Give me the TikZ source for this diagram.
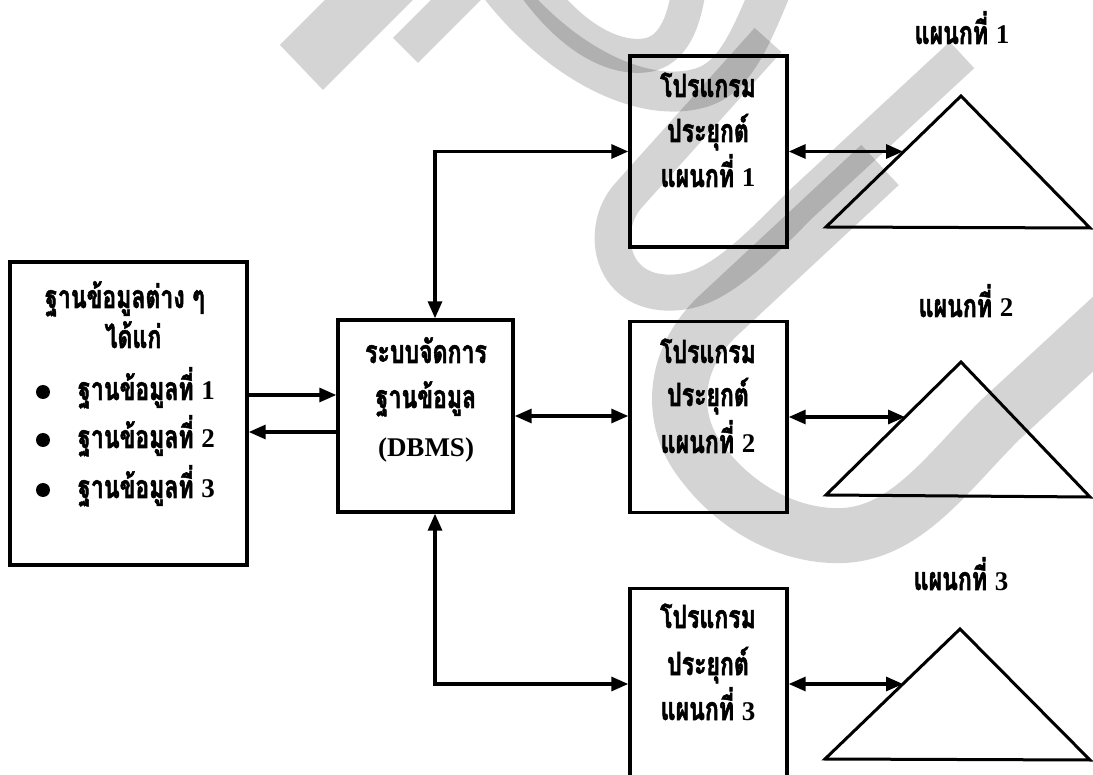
\documentclass[tikz,border=0pt]{standalone}
\usepackage{fontspec}
\newfontfamily\thaifont[Script=Thai,FakeStretch=0.72,FakeBold=1.6]{Loma}
\newfontfamily\serifnum{Liberation Serif}
\usetikzlibrary{arrows.meta,calc}
\newcommand\latn[1]{{\serifnum\bfseries\fontsize{27}{30}\selectfont #1}}
\begin{document}
\begin{tikzpicture}[x=1pt,y=-1pt,
  box/.style={draw,line width=3.4pt,rectangle,inner sep=0pt,
              minimum width=157pt,minimum height=191pt},
  th/.style={font=\thaifont\bfseries\fontsize{32}{36}\selectfont,
             inner sep=0pt,anchor=base},
  dot/.style={circle,fill,inner sep=0pt,minimum size=14pt},
  link/.style={line width=3.2pt,-{Triangle[length=17pt,width=14pt]}},
  both/.style={line width=3.2pt,
               {Triangle[length=17pt,width=14pt]}-{Triangle[length=17pt,width=14pt]}},
  tri/.style={line width=3pt,line join=miter},
  wm/.style={black,opacity=0.17},
]
\useasboundingbox (0,0) rectangle (1093,775);
\clip (0,0) rectangle (1093,775);
\fill[white] (0,0) rectangle (1093,775);

% faint logo behind the chart
\fill[wm] (280,45) -- (323,90) -- (413,0) -- (325,0) -- cycle;
\fill[wm] (393,38) -- (418,63) -- (481,0) -- (431,0) -- cycle;
\draw[wm,line width=40pt] (495,-20) .. controls (555,60) and (640,105) .. (700,88)
      .. controls (735,78) and (750,40) .. (775,-20);
\draw[wm,line width=34pt] (530,-20) .. controls (575,45) and (620,60) .. (648,55)
      .. controls (672,50) and (685,25) .. (690,-20);
\draw[wm,line width=36pt] (768,40) -- (628,196) .. controls (598,230) and (610,300) .. (680,292)
      .. controls (720,288) and (760,245) .. (800,205) -- (962,55);
\draw[wm,line width=55pt] (880,165) -- (720,314) .. controls (670,360) and (670,420) .. (700,460)
      .. controls (740,515) and (800,540) .. (850,535)
      .. controls (910,528) and (950,470) .. (1000,420) -- (1130,300);

% boxes
\node[box,minimum width=237pt,minimum height=303pt] (dbs) at (128.5,413.5) {};
\node[box,minimum width=175pt,minimum height=192pt] (dbms) at (425.5,416) {};
\node[box] (p1) at (708.5,151.5) {};
\node[box] (p2) at (708.5,417) {};
\node[box] (p3) at (708.5,684) {};

% list of databases
\node[th] (dbs1) at (125,308) {ฐานข้อมูลต่าง ๆ};
\node[th] (dbs2) at (133,348) {ได้แก่};
\node[dot] (k1) at (43,392) {};
\node[dot] (k2) at (43,440) {};
\node[dot] (k3) at (43,490) {};
\node[th,anchor=base west] (i1) at (78,400) {ฐานข้อมูลที่ \latn{1}};
\node[th,anchor=base west] (i2) at (78,448) {ฐานข้อมูลที่ \latn{2}};
\node[th,anchor=base west] (i3) at (78,498) {ฐานข้อมูลที่ \latn{3}};

% DBMS
\node[th] (m1) at (426,363) {ระบบจัดการ};
\node[th] (m2) at (426,408) {ฐานข้อมูล};
\node[th] (m3) at (426,457) {\latn{(DBMS)}};

% application programs
\node[th] (a1) at (708,97) {โปรแกรม};
\node[th] (a2) at (708,142) {ประยุกต์};
\node[th] (a3) at (708,187) {แผนกที่ \latn{1}};
\node[th] (b1) at (708,363) {โปรแกรม};
\node[th] (b2) at (708,406) {ประยุกต์};
\node[th] (b3) at (708,453) {แผนกที่ \latn{2}};
\node[th] (c1) at (708,628) {โปรแกรม};
\node[th] (c2) at (708,675) {ประยุกต์};
\node[th] (c3) at (708,720) {แผนกที่ \latn{3}};

% departments
\node[th] (d1) at (962,44) {แผนกที่ \latn{1}};
\node[th] (d2) at (966,317) {แผนกที่ \latn{2}};
\node[th] (d3) at (961,590) {แผนกที่ \latn{3}};
\coordinate (t1l) at (826,227); \coordinate (t1a) at (961,96);  \coordinate (t1r) at (1090,228);
\coordinate (t2l) at (826,495); \coordinate (t2a) at (961,362); \coordinate (t2r) at (1090,497);
\coordinate (t3l) at (825,759); \coordinate (t3a) at (960,629); \coordinate (t3r) at (1090,760);
\draw[tri] (t1l) -- (t1a) -- (t1r) -- cycle;
\draw[tri] (t2l) -- (t2a) -- (t2r) -- cycle;
\draw[tri] (t3l) -- (t3a) -- (t3r) -- cycle;
\coordinate (e1) at (903,151.5);
\coordinate (e2) at (905,417);
\coordinate (e3) at (903,684);

% connectors
\coordinate (ya) at (0,395);
\coordinate (yb) at (0,432);
\draw[link] (dbs.east |- ya) -- (dbms.west |- ya);
\draw[link] (dbms.west |- yb) -- (dbs.east |- yb);
\coordinate (up) at ($(dbms.north)+(9.5,0)$);
\coordinate (dn) at ($(dbms.south)+(9.5,0)$);
\draw[both] (up) |- (p1.west);
\draw[both] (dbms.east) -- (dbms.east -| p2.west);
\draw[both] (dn) |- (p3.west);
\draw[both] (p1.east) -- (e1);
\draw[both] (p2.east) -- (e2);
\draw[both] (p3.east) -- (e3);
\end{tikzpicture}
\end{document}
